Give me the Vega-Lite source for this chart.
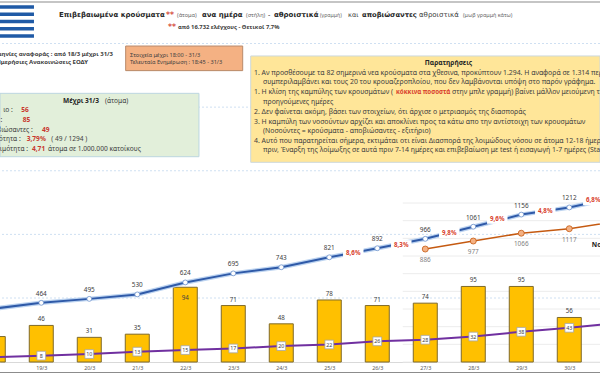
{"$schema":"https://vega.github.io/schema/vega-lite/v6.json","width":600,"height":375,"padding":0,"autosize":{"type":"none"},"background":"white",
"config":{"view":{"stroke":null},"axisY":{"disable":true},"axisX":{"title":null},"text":{"font":"Noto Sans"},"scale":{"continuousPadding":0}},
"resolve":{"scale":{"y":"independent"}},
"layer":[
{"data":{"values":[{"guide":1},{"guide":2},{"guide":3},{"guide":4},{"guide":5}]},"mark":{"type":"rule","stroke":"#cfe0f2","strokeWidth":1,"strokeDash":[2,2]},"encoding":{"y":{"field":"guide","type":"quantitative","scale":{"domain":[1,5],"range":[43.5,298],"zero":false,"nice":false}}}},
{"data":{"values":[{"edge":1},{"edge":2}]},"mark":{"type":"rule","stroke":"#8c8c8c","strokeWidth":1.2},"encoding":{"y":{"field":"edge","type":"quantitative","scale":{"domain":[1,2],"range":[2,372.5],"zero":false,"nice":false}}}},
{"data":{"values":[{"stripe":1},{"stripe":2},{"stripe":3},{"stripe":4},{"stripe":5}]},"mark":{"type":"rule","stroke":"#1f5aa6","strokeWidth":3.6,"clip":true},"encoding":{"x":{"datum":18.14,"scale":{"domain":[18.14,30.64]}},"x2":{"datum":18.848},"y":{"field":"stripe","type":"quantitative","scale":{"domain":[1,5],"range":[7,36],"zero":false,"nice":false}}}},
{"data":{"values":[{"g":0},{"g":1},{"g":2},{"g":3},{"g":4},{"g":5},{"g":6},{"g":7},{"g":8},{"g":9}]},"mark":{"type":"rule","stroke":"#ececec","strokeWidth":1},"encoding":{"x":{"datum":26.53,"scale":{"domain":[18.14,30.64]}},"x2":{"datum":30.64},"y":{"field":"g","type":"quantitative","scale":{"domain":[0,9],"range":[362,203],"zero":false,"nice":false}}}},
{"layer":[
{"data":{"values":[{"box":"date"}]},"mark":{"type":"rect","fill":"#F4B183","stroke":"#b98a6a","strokeWidth":1,"clip":true},"encoding":{"x":{"datum":20.758,"scale":{"domain":[18.14,30.64]}},"x2":{"datum":23.196},"y":{"datum":2478,"scale":{"domain":[-102,2839],"zero":false,"nice":false}},"y2":{"datum":2285}}},
{"data":{"values":[{"box":"totals"}]},"mark":{"type":"rect","fill":"#E2EFDA","stroke":"#bcd6e0","strokeWidth":1,"clip":true},"encoding":{"x":{"datum":18.14,"scale":{"domain":[18.14,30.64]}},"x2":{"datum":22.285},"y":{"datum":2107},"y2":{"datum":1610}}},
{"data":{"values":[{"box":"notes"}]},"mark":{"type":"rect","fill":"#FFE699","stroke":"#cdd8dc","strokeWidth":1,"clip":true},"encoding":{"x":{"datum":23.363,"scale":{"domain":[18.14,30.64]}},"x2":{"datum":30.64},"y":{"datum":2400},"y2":{"datum":1566}}},

{"data":{"values":[{"t":"Επιβεβαιωμένα κρούσματα"}]},"mark":{"type":"text","align":"left","font":"DejaVu Sans","fontWeight":"bold","fontSize":7,"color":"#262626"},"encoding":{"x":{"datum":19.369,"scale":{"domain":[18.14,30.64]}},"y":{"datum":2722},"text":{"field":"t"}}},
{"data":{"values":[{"t":"**"}]},"mark":{"type":"text","align":"left","font":"DejaVu Sans","fontWeight":"bold","fontSize":7.6,"color":"#d23a2e"},"encoding":{"x":{"datum":21.598,"scale":{"domain":[18.14,30.64]}},"y":{"datum":2722},"text":{"field":"t"}}},
{"data":{"values":[{"t":"(άτομα)"}]},"mark":{"type":"text","align":"left","fontSize":5.6,"color":"#666666"},"encoding":{"x":{"datum":21.827,"scale":{"domain":[18.14,30.64]}},"y":{"datum":2722},"text":{"field":"t"}}},
{"data":{"values":[{"t":"ανα ημέρα"}]},"mark":{"type":"text","align":"left","font":"DejaVu Sans","fontWeight":"bold","fontSize":7,"color":"#262626"},"encoding":{"x":{"datum":22.348,"scale":{"domain":[18.14,30.64]}},"y":{"datum":2722},"text":{"field":"t"}}},
{"data":{"values":[{"t":"(στήλη)"}]},"mark":{"type":"text","align":"left","fontSize":5.6,"color":"#666666"},"encoding":{"x":{"datum":23.265,"scale":{"domain":[18.14,30.64]}},"y":{"datum":2722},"text":{"field":"t"}}},
{"data":{"values":[{"t":"-"}]},"mark":{"type":"text","align":"left","fontSize":7,"color":"#262626"},"encoding":{"x":{"datum":23.723,"scale":{"domain":[18.14,30.64]}},"y":{"datum":2722},"text":{"field":"t"}}},
{"data":{"values":[{"t":"αθροιστικά"}]},"mark":{"type":"text","align":"left","font":"DejaVu Sans","fontWeight":"bold","fontSize":7,"color":"#262626"},"encoding":{"x":{"datum":23.848,"scale":{"domain":[18.14,30.64]}},"y":{"datum":2722},"text":{"field":"t"}}},
{"data":{"values":[{"t":"(γραμμή)"}]},"mark":{"type":"text","align":"left","fontSize":5.2,"color":"#666666"},"encoding":{"x":{"datum":24.806,"scale":{"domain":[18.14,30.64]}},"y":{"datum":2722},"text":{"field":"t"}}},
{"data":{"values":[{"t":"και"}]},"mark":{"type":"text","align":"left","font":"DejaVu Sans","fontSize":6.6,"color":"#404040"},"encoding":{"x":{"datum":25.39,"scale":{"domain":[18.14,30.64]}},"y":{"datum":2722},"text":{"field":"t"}}},
{"data":{"values":[{"t":"αποβιώσαντες"}]},"mark":{"type":"text","align":"left","font":"DejaVu Sans","fontWeight":"bold","fontSize":6.8,"color":"#262626"},"encoding":{"x":{"datum":25.681,"scale":{"domain":[18.14,30.64]}},"y":{"datum":2722},"text":{"field":"t"}}},
{"data":{"values":[{"t":"αθροιστικά"}]},"mark":{"type":"text","align":"left","font":"DejaVu Sans","fontSize":7,"color":"#404040"},"encoding":{"x":{"datum":26.869,"scale":{"domain":[18.14,30.64]}},"y":{"datum":2722},"text":{"field":"t"}}},
{"data":{"values":[{"t":"(μωβ γραμμή κάτω)"}]},"mark":{"type":"text","align":"left","fontSize":5.4,"color":"#666666"},"encoding":{"x":{"datum":27.785,"scale":{"domain":[18.14,30.64]}},"y":{"datum":2722},"text":{"field":"t"}}},
{"data":{"values":[{"t":"**"}]},"mark":{"type":"text","align":"left","font":"DejaVu Sans","fontWeight":"bold","fontSize":7.6,"color":"#d23a2e"},"encoding":{"x":{"datum":21.64,"scale":{"domain":[18.14,30.64]}},"y":{"datum":2627},"text":{"field":"t"}}},
{"data":{"values":[{"t":"από 16.732 ελέγχους - Θετικοί 7,7%"}]},"mark":{"type":"text","align":"left","fontWeight":"bold","fontSize":5.8,"color":"#404040"},"encoding":{"x":{"datum":21.848,"scale":{"domain":[18.14,30.64]}},"y":{"datum":2627},"text":{"field":"t"}}},

{"data":{"values":[{"t":"Ημερομηνίες αναφοράς  :  από 18/3 μέχρι 31/3"}]},"mark":{"type":"text","align":"right","fontSize":6,"fontWeight":"bold","color":"#404040","clip":true},"encoding":{"x":{"datum":20.494,"scale":{"domain":[18.14,30.64]}},"y":{"datum":2416},"text":{"field":"t"}}},
{"data":{"values":[{"t":"- Ημερήσιες Ανακοινώσεις ΕΟΔΥ"}]},"mark":{"type":"text","align":"right","fontSize":6,"fontWeight":"bold","color":"#404040","clip":true},"encoding":{"x":{"datum":19.973,"scale":{"domain":[18.14,30.64]}},"y":{"datum":2353},"text":{"field":"t"}}},
{"data":{"values":[{"t":"Στοιχεία μέχρι  18:00 - 31/3"}]},"mark":{"type":"text","align":"left","fontSize":5.6,"color":"#404040"},"encoding":{"x":{"datum":20.848,"scale":{"domain":[18.14,30.64]}},"y":{"datum":2408},"text":{"field":"t"}}},
{"data":{"values":[{"t":"Τελευταία Ενημέρωση  : 18:45 - 31/3"}]},"mark":{"type":"text","align":"left","fontSize":5.6,"color":"#404040"},"encoding":{"x":{"datum":20.848,"scale":{"domain":[18.14,30.64]}},"y":{"datum":2349},"text":{"field":"t"}}},

{"data":{"values":[{"t":"Μέχρι 31/3"}]},"mark":{"type":"text","align":"left","fontWeight":"bold","fontSize":6.6,"color":"#262626"},"encoding":{"x":{"datum":19.452,"scale":{"domain":[18.14,30.64]}},"y":{"datum":2049},"text":{"field":"t"}}},
{"data":{"values":[{"t":"(άτομα)"}]},"mark":{"type":"text","align":"left","fontSize":6.6,"color":"#404040"},"encoding":{"x":{"datum":20.327,"scale":{"domain":[18.14,30.64]}},"y":{"datum":2049},"text":{"field":"t"}}},
{"data":{"values":[{"t":"ιο :"}]},"mark":{"type":"text","align":"right","fontSize":6.6,"color":"#404040"},"encoding":{"x":{"datum":18.405,"scale":{"domain":[18.14,30.64]}},"y":{"datum":1979},"text":{"field":"t"}}},
{"data":{"values":[{"t":"56"}]},"mark":{"type":"text","align":"left","fontWeight":"bold","fontSize":6.6,"color":"#c8372d"},"encoding":{"x":{"datum":18.583,"scale":{"domain":[18.14,30.64]}},"y":{"datum":1979},"text":{"field":"t"}}},
{"data":{"values":[{"t":":"}]},"mark":{"type":"text","align":"right","fontSize":6.6,"color":"#404040"},"encoding":{"x":{"datum":18.19,"scale":{"domain":[18.14,30.64]}},"y":{"datum":1900},"text":{"field":"t"}}},
{"data":{"values":[{"t":"85"}]},"mark":{"type":"text","align":"left","fontWeight":"bold","fontSize":6.6,"color":"#c8372d"},"encoding":{"x":{"datum":18.612,"scale":{"domain":[18.14,30.64]}},"y":{"datum":1900},"text":{"field":"t"}}},
{"data":{"values":[{"t":"Αποβιώσαντες :"}]},"mark":{"type":"text","align":"right","fontSize":6.6,"color":"#404040","clip":true},"encoding":{"x":{"datum":18.821,"scale":{"domain":[18.14,30.64]}},"y":{"datum":1822},"text":{"field":"t"}}},
{"data":{"values":[{"t":"49"}]},"mark":{"type":"text","align":"left","fontWeight":"bold","fontSize":6.6,"color":"#c8372d"},"encoding":{"x":{"datum":19.015,"scale":{"domain":[18.14,30.64]}},"y":{"datum":1822},"text":{"field":"t"}}},
{"data":{"values":[{"t":"Θνητότητα :"}]},"mark":{"type":"text","align":"right","fontSize":6.6,"color":"#404040","clip":true},"encoding":{"x":{"datum":18.571,"scale":{"domain":[18.14,30.64]}},"y":{"datum":1749},"text":{"field":"t"}}},
{"data":{"values":[{"t":"3,79%"}]},"mark":{"type":"text","align":"left","fontWeight":"bold","fontSize":6.6,"color":"#c8372d"},"encoding":{"x":{"datum":18.696,"scale":{"domain":[18.14,30.64]}},"y":{"datum":1749},"text":{"field":"t"}}},
{"data":{"values":[{"t":"( 49 / 1294 )"}]},"mark":{"type":"text","align":"left","fontSize":6.6,"color":"#404040"},"encoding":{"x":{"datum":19.208,"scale":{"domain":[18.14,30.64]}},"y":{"datum":1749},"text":{"field":"t"}}},
{"data":{"values":[{"t":"Θνησιμότητα :"}]},"mark":{"type":"text","align":"right","fontSize":6.6,"color":"#404040","clip":true},"encoding":{"x":{"datum":18.723,"scale":{"domain":[18.14,30.64]}},"y":{"datum":1673},"text":{"field":"t"}}},
{"data":{"values":[{"t":"4,71"}]},"mark":{"type":"text","align":"left","fontWeight":"bold","fontSize":6.6,"color":"#c8372d"},"encoding":{"x":{"datum":18.806,"scale":{"domain":[18.14,30.64]}},"y":{"datum":1673},"text":{"field":"t"}}},
{"data":{"values":[{"t":"άτομα σε 1.000.000 κατοίκους"}]},"mark":{"type":"text","align":"left","fontSize":6.6,"color":"#404040"},"encoding":{"x":{"datum":19.14,"scale":{"domain":[18.14,30.64]}},"y":{"datum":1673},"text":{"field":"t"}}},

{"data":{"values":[{"t":"Παρατηρήσεις"}]},"mark":{"type":"text","align":"center","fontWeight":"bold","fontSize":6.6,"color":"#262626"},"encoding":{"x":{"datum":27.483,"scale":{"domain":[18.14,30.64]}},"y":{"datum":2343},"text":{"field":"t"}}},
{"data":{"values":[{"t":"1. Αν προσθέσουμε τα 82 σημερινά νεα κρούσματα στα χθεσινα, προκύπτουν 1.294. Η αναφορά σε 1.314 περιστατικά"}]},"mark":{"type":"text","align":"left","fontSize":6.9,"color":"#404040","clip":true},"encoding":{"x":{"datum":23.431,"scale":{"domain":[18.14,30.64]}},"y":{"datum":2269},"text":{"field":"t"}}},
{"data":{"values":[{"t":"συμπεριλαμβάνει και τους 20 του κρουαζεροπλοίου, που δεν λαμβάνονται υπόψη στο παρόν γράφημα."}]},"mark":{"type":"text","align":"left","fontSize":6.9,"color":"#404040","clip":true},"encoding":{"x":{"datum":23.619,"scale":{"domain":[18.14,30.64]}},"y":{"datum":2196},"text":{"field":"t"}}},
{"data":{"values":[{"t":"1.  Η κλίση της καμπύλης των κρουσμάτων ("}]},"mark":{"type":"text","align":"left","fontSize":6.9,"color":"#404040"},"encoding":{"x":{"datum":23.431,"scale":{"domain":[18.14,30.64]}},"y":{"datum":2115},"text":{"field":"t"}}},
{"data":{"values":[{"t":"κόκκινα ποσοστά"}]},"mark":{"type":"text","align":"left","fontSize":6.2,"fontWeight":"bold","color":"#d8402c"},"encoding":{"x":{"datum":26.39,"scale":{"domain":[18.14,30.64]}},"y":{"datum":2115},"text":{"field":"t"}}},
{"data":{"values":[{"t":"στην μπλε γραμμή) βαίνει μάλλον μειούμενη τις"}]},"mark":{"type":"text","align":"left","fontSize":6.9,"color":"#404040","clip":true},"encoding":{"x":{"datum":27.556,"scale":{"domain":[18.14,30.64]}},"y":{"datum":2115},"text":{"field":"t"}}},
{"data":{"values":[{"t":"προηγούμενες ημέρες"}]},"mark":{"type":"text","align":"left","fontSize":6.9,"color":"#404040"},"encoding":{"x":{"datum":23.619,"scale":{"domain":[18.14,30.64]}},"y":{"datum":2039},"text":{"field":"t"}}},
{"data":{"values":[{"t":"2. Δεν φαίνεται ακόμη, βάσει των στοιχείων, ότι άρχισε ο μετριασμός της διασποράς"}]},"mark":{"type":"text","align":"left","fontSize":6.9,"color":"#404040"},"encoding":{"x":{"datum":23.431,"scale":{"domain":[18.14,30.64]}},"y":{"datum":1963},"text":{"field":"t"}}},
{"data":{"values":[{"t":"3.  Η καμπύλη των νοσούντων αρχίζει και αποκλίνει προς τα κάτω απο την αντίστοιχη των κρουσμάτων"}]},"mark":{"type":"text","align":"left","fontSize":6.9,"color":"#404040"},"encoding":{"x":{"datum":23.431,"scale":{"domain":[18.14,30.64]}},"y":{"datum":1885},"text":{"field":"t"}}},
{"data":{"values":[{"t":"(Νοσούντες = κρούσματα - αποβιώσαντες  - εξιτήριο)"}]},"mark":{"type":"text","align":"left","fontSize":6.9,"color":"#404040"},"encoding":{"x":{"datum":23.619,"scale":{"domain":[18.14,30.64]}},"y":{"datum":1812},"text":{"field":"t"}}},
{"data":{"values":[{"t":"4. Αυτό που παρατηρείται σήμερα, εκτιμάται οτι είναι Διασπορά της λοιμώδους νόσου σε άτομα 12-18 ήμερες"}]},"mark":{"type":"text","align":"left","fontSize":6.9,"color":"#404040","clip":true},"encoding":{"x":{"datum":23.431,"scale":{"domain":[18.14,30.64]}},"y":{"datum":1736},"text":{"field":"t"}}},
{"data":{"values":[{"t":"πριν, Έναρξη της λοίμωξης σε αυτά πριν 7-14 ημέρες και επιβεβαίωση με test ή εισαγωγή 1-7 ημέρες (Stage)"}]},"mark":{"type":"text","align":"left","fontSize":6.9,"color":"#404040","clip":true},"encoding":{"x":{"datum":23.619,"scale":{"domain":[18.14,30.64]}},"y":{"datum":1663},"text":{"field":"t"}}}
]},

{"data":{"values":[{"day":18,"cases":32,"deaths":6},{"day":19,"cases":46,"deaths":8},{"day":20,"cases":31,"deaths":10},{"day":21,"cases":35,"deaths":13},{"day":22,"cases":94,"deaths":15},{"day":23,"cases":71,"deaths":17},{"day":24,"cases":48,"deaths":20},{"day":25,"cases":78,"deaths":22},{"day":26,"cases":71,"deaths":26},{"day":27,"cases":74,"deaths":28},{"day":28,"cases":95,"deaths":32},{"day":29,"cases":95,"deaths":38},{"day":30,"cases":56,"deaths":43},{"day":31,"cases":82,"deaths":49}]},
"layer":[
{"mark":{"type":"bar","size":24,"orient":"vertical","fill":"#FFC000","stroke":"#7f6a2a","strokeWidth":1,"clip":true},"encoding":{"x":{"field":"day","type":"quantitative","title":null,"scale":{"domain":[18.14,30.64],"padding":0},"axis":{"values":[19,20,21,22,23,24,25,26,27,28,29,30],"labelExpr":"datum.value + '/3'","offset":-13,"grid":false,"ticks":false,"domainColor":"#d9d9d9","labelFontSize":5.4,"labelColor":"#595959","labelFont":"Noto Sans","labelPadding":3}},"y":{"field":"cases","type":"quantitative","scale":{"domain":[-16.35,455.3],"zero":false,"nice":false}}}},
{"transform":[{"filter":"datum.cases !== 94"}],"mark":{"type":"text","dy":-6,"fontSize":6.2,"color":"#404040","clip":true},"encoding":{"x":{"field":"day","type":"quantitative","scale":{"domain":[18.14,30.64]}},"y":{"field":"cases","type":"quantitative"},"text":{"field":"cases"}}},
{"transform":[{"filter":"datum.cases === 94"}],"mark":{"type":"text","dy":11,"fontSize":6.2,"color":"#404040"},"encoding":{"x":{"field":"day","type":"quantitative","scale":{"domain":[18.14,30.64]}},"y":{"field":"cases","type":"quantitative"},"text":{"field":"cases"}}},
{"mark":{"type":"line","stroke":"#7030A0","strokeWidth":2,"clip":true},"encoding":{"x":{"field":"day","type":"quantitative","scale":{"domain":[18.14,30.64]}},"y":{"field":"deaths","type":"quantitative"}}},
{"mark":{"type":"point","shape":"square","filled":true,"fill":"white","stroke":"#a6a6a6","strokeWidth":0.8,"opacity":1,"size":76,"clip":true},"encoding":{"x":{"field":"day","type":"quantitative","scale":{"domain":[18.14,30.64]}},"y":{"field":"deaths","type":"quantitative"}}},
{"mark":{"type":"text","fontSize":5.4,"color":"#404040","clip":true},"encoding":{"x":{"field":"day","type":"quantitative","scale":{"domain":[18.14,30.64]}},"y":{"field":"deaths","type":"quantitative"},"text":{"field":"deaths"}}}
]},

{"data":{"values":[{"day":27,"active":886},{"day":28,"active":977},{"day":29,"active":1066},{"day":30,"active":1117},{"day":31,"active":1200}]},
"layer":[
{"mark":{"type":"line","stroke":"#C55A11","strokeWidth":1.6,"clip":true},"encoding":{"x":{"field":"day","type":"quantitative","scale":{"domain":[18.14,30.64]}},"y":{"field":"active","type":"quantitative","scale":{"domain":[-547,3719],"zero":false,"nice":false}}}},
{"mark":{"type":"point","filled":true,"fill":"#F4B183","stroke":"#C55A11","strokeWidth":0.8,"opacity":1,"size":36,"clip":true},"encoding":{"x":{"field":"day","type":"quantitative","scale":{"domain":[18.14,30.64]}},"y":{"field":"active","type":"quantitative"}}},
{"mark":{"type":"text","dy":11,"fontSize":6.4,"color":"#7f7f7f","clip":true},"encoding":{"x":{"field":"day","type":"quantitative","scale":{"domain":[18.14,30.64]}},"y":{"field":"active","type":"quantitative"},"text":{"field":"active"}}}
]},

{"data":{"values":[{"day":18,"total":418},{"day":19,"total":464},{"day":20,"total":495},{"day":21,"total":530},{"day":22,"total":624},{"day":23,"total":695},{"day":24,"total":743},{"day":25,"total":821},{"day":26,"total":892},{"day":27,"total":966},{"day":28,"total":1061},{"day":29,"total":1156},{"day":30,"total":1212},{"day":31,"total":1294}]},
"layer":[
{"mark":{"type":"line","stroke":"#bcd3f0","strokeWidth":4.5,"clip":true},"encoding":{"x":{"field":"day","type":"quantitative","scale":{"domain":[18.14,30.64]}},"y":{"field":"total","type":"quantitative","scale":{"domain":[-102,2839],"zero":false,"nice":false}}}},
{"mark":{"type":"line","stroke":"#2F5AA8","strokeWidth":2,"clip":true},"encoding":{"x":{"field":"day","type":"quantitative","scale":{"domain":[18.14,30.64]}},"y":{"field":"total","type":"quantitative"}}},
{"mark":{"type":"point","filled":true,"fill":"white","stroke":"#6f93cc","strokeWidth":0.8,"opacity":1,"size":24,"clip":true},"encoding":{"x":{"field":"day","type":"quantitative","scale":{"domain":[18.14,30.64]}},"y":{"field":"total","type":"quantitative"}}},
{"mark":{"type":"text","dy":-9,"fontSize":6.4,"color":"#404040","clip":true},"encoding":{"x":{"field":"day","type":"quantitative","scale":{"domain":[18.14,30.64]}},"y":{"field":"total","type":"quantitative"},"text":{"field":"total"}}},
{"data":{"values":[{"mid":25.5,"level":856,"pct":"8,6%"},{"mid":26.5,"level":915,"pct":"8,3%"},{"mid":27.5,"level":1013,"pct":"9,8%"},{"mid":28.5,"level":1124,"pct":"9,6%"},{"mid":29.5,"level":1184,"pct":"4,8%"},{"mid":30.5,"level":1270,"pct":"6,8%"}]},
"layer":[
{"mark":{"type":"point","shape":"M-1,-0.5H1V0.5H-1Z","filled":true,"fill":"white","stroke":null,"opacity":1,"size":420,"clip":true},"encoding":{"x":{"field":"mid","type":"quantitative","scale":{"domain":[18.14,30.64]}},"y":{"field":"level","type":"quantitative"}}},
{"mark":{"type":"text","fontSize":6.2,"fontWeight":"bold","color":"#d8402c","clip":true},"encoding":{"x":{"field":"mid","type":"quantitative","scale":{"domain":[18.14,30.64]}},"y":{"field":"level","type":"quantitative"},"text":{"field":"pct"}}}
]}
]},

{"data":{"values":[{"t":"Νοσούντες"}]},"mark":{"type":"text","align":"left","fontWeight":"bold","fontSize":6.6,"color":"#1a1a1a","clip":true},"encoding":{"x":{"datum":30.47,"scale":{"domain":[18.14,30.64]}},"y":{"datum":918,"scale":{"domain":[-102,2839],"zero":false,"nice":false}},"text":{"field":"t"}}}
]}
